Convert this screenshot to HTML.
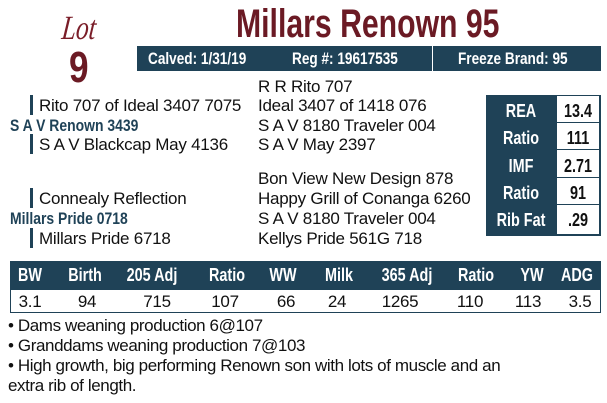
<!DOCTYPE html>
<html><head><meta charset="utf-8"><style>
body{margin:0;width:607px;height:403px;background:#fff;position:relative;overflow:hidden;font-family:"Liberation Sans",sans-serif;color:#111}
.a{position:absolute;white-space:nowrap}
.n{transform-origin:0 0;transform:scaleX(0.8)}
.p{font-size:17px;letter-spacing:-0.25px;line-height:19px}
.bar{position:absolute;width:3px;background:#1f4257}
.nav{background:#1f4257;color:#fff;font-weight:bold}
.c{position:absolute;text-align:center;white-space:nowrap;transform:translateX(-50%)}
</style></head><body>
<div class="a" style="left:64px;top:10px;font-family:'Liberation Serif',serif;font-style:italic;font-size:34px;color:#7a1d28;transform-origin:0 0;transform:scaleX(0.75) skewX(-8deg)">Lot</div>
<div class="a" style="left:69px;top:43px;font-size:44px;font-weight:bold;color:#6b1a24;transform-origin:0 0;transform:scaleX(0.8)">9</div>
<div class="a" style="left:236px;top:2px;font-size:40px;font-weight:bold;color:#6b1a24;transform-origin:0 0;transform:scaleX(0.755)">Millars Renown 95</div>
<div class="a nav" style="left:137px;top:46px;width:464px;height:25px"></div>
<div class="a" style="left:432px;top:46px;width:1px;height:25px;background:#fff"></div>
<div class="a n" style="left:148px;top:49px;color:#fff;font-weight:bold;font-size:17px">Calved: 1/31/19</div>
<div class="a n" style="left:292px;top:49px;color:#fff;font-weight:bold;font-size:17px">Reg #: 19617535</div>
<div class="a n" style="left:458px;top:49px;color:#fff;font-weight:bold;font-size:17px">Freeze Brand: 95</div>

<div class="bar" style="left:30px;top:95px;height:20px"></div>
<div class="bar" style="left:30px;top:134px;height:20px"></div>
<div class="a p" style="left:39px;top:96px">Rito 707 of Ideal 3407 7075</div>
<div class="a" style="left:10px;top:116px;font-weight:bold;color:#1f4257;font-size:17px;transform-origin:0 0;transform:scaleX(0.82)">S A V Renown 3439</div>
<div class="a p" style="left:39px;top:135px">S A V Blackcap May 4136</div>
<div class="a p" style="left:258px;top:77px">R R Rito 707</div>
<div class="a p" style="left:258px;top:96px">Ideal 3407 of 1418 076</div>
<div class="a p" style="left:258px;top:116px">S A V 8180 Traveler 004</div>
<div class="a p" style="left:258px;top:135px">S A V May 2397</div>

<div class="bar" style="left:30px;top:188px;height:20px"></div>
<div class="bar" style="left:30px;top:228px;height:20px"></div>
<div class="a p" style="left:39px;top:189px">Connealy Reflection</div>
<div class="a" style="left:10px;top:209px;font-weight:bold;color:#1f4257;font-size:17px;transform-origin:0 0;transform:scaleX(0.82)">Millars Pride 0718</div>
<div class="a p" style="left:39px;top:229px">Millars Pride 6718</div>
<div class="a p" style="left:258px;top:169px">Bon View New Design 878</div>
<div class="a p" style="left:258px;top:189px">Happy Grill of Conanga 6260</div>
<div class="a p" style="left:258px;top:209px">S A V 8180 Traveler 004</div>
<div class="a p" style="left:258px;top:229px">Kellys Pride 561G 718</div>

<div class="a nav" style="left:486px;top:95px;width:115px;height:141px"></div>
<div class="a" style="left:556px;top:95px;width:44px;height:140px;background:#fff;border:1px solid #1f4257;box-sizing:border-box"></div>
<div class="a" style="left:556px;top:122px;width:44px;height:1px;background:#1f4257"></div>
<div class="a" style="left:556px;top:149px;width:44px;height:1px;background:#1f4257"></div>
<div class="a" style="left:556px;top:177px;width:44px;height:1px;background:#1f4257"></div>
<div class="a" style="left:556px;top:204px;width:44px;height:1px;background:#1f4257"></div>
<div style="position:absolute;left:0;top:0;color:#fff;font-weight:bold;font-size:18px">
<div class="c" style="left:521px;top:101px;transform:translateX(-50%) scaleX(0.8)">REA</div>
<div class="c" style="left:521px;top:128px;transform:translateX(-50%) scaleX(0.8)">Ratio</div>
<div class="c" style="left:521px;top:156px;transform:translateX(-50%) scaleX(0.8)">IMF</div>
<div class="c" style="left:521px;top:183px;transform:translateX(-50%) scaleX(0.8)">Ratio</div>
<div class="c" style="left:521px;top:210px;transform:translateX(-50%) scaleX(0.8)">Rib Fat</div>
</div>
<div style="position:absolute;left:0;top:0;font-weight:bold;font-size:18px">
<div class="c" style="left:578px;top:101px;transform:translateX(-50%) scaleX(0.8)">13.4</div>
<div class="c" style="left:578px;top:128px;transform:translateX(-50%) scaleX(0.8)">111</div>
<div class="c" style="left:578px;top:156px;transform:translateX(-50%) scaleX(0.8)">2.71</div>
<div class="c" style="left:578px;top:183px;transform:translateX(-50%) scaleX(0.8)">91</div>
<div class="c" style="left:578px;top:210px;transform:translateX(-50%) scaleX(0.8)">.29</div>
</div>

<div class="a nav" style="left:10px;top:261px;width:591px;height:29px"></div>
<div class="a" style="left:10px;top:290px;width:591px;height:23px;border:1px solid #1f4257;border-top:none;box-sizing:border-box"></div>
<div style="position:absolute;top:265px;left:0;color:#fff;font-weight:bold;font-size:18px">
<div class="c" style="left:30px;transform:translateX(-50%) scaleX(0.8)">BW</div>
<div class="c" style="left:85px;transform:translateX(-50%) scaleX(0.8)">Birth</div>
<div class="c" style="left:152px;transform:translateX(-50%) scaleX(0.8)">205 Adj</div>
<div class="c" style="left:227px;transform:translateX(-50%) scaleX(0.8)">Ratio</div>
<div class="c" style="left:283px;transform:translateX(-50%) scaleX(0.8)">WW</div>
<div class="c" style="left:339px;transform:translateX(-50%) scaleX(0.8)">Milk</div>
<div class="c" style="left:407px;transform:translateX(-50%) scaleX(0.8)">365 Adj</div>
<div class="c" style="left:476px;transform:translateX(-50%) scaleX(0.8)">Ratio</div>
<div class="c" style="left:532px;transform:translateX(-50%) scaleX(0.8)">YW</div>
<div class="c" style="left:577px;transform:translateX(-50%) scaleX(0.8)">ADG</div>
</div>
<div style="position:absolute;top:292px;left:0;font-size:17px;letter-spacing:-0.3px">
<div class="c" style="left:30px">3.1</div>
<div class="c" style="left:87px">94</div>
<div class="c" style="left:157px">715</div>
<div class="c" style="left:225px">107</div>
<div class="c" style="left:286px">66</div>
<div class="c" style="left:337px">24</div>
<div class="c" style="left:400px">1265</div>
<div class="c" style="left:470px">110</div>
<div class="c" style="left:528px">113</div>
<div class="c" style="left:580px">3.5</div>
</div>
<div class="a p" style="left:8px;top:316px;line-height:20px;letter-spacing:-0.4px">• Dams weaning production 6@107<br>• Granddams weaning production 7@103<br>• High growth, big performing Renown son with lots of muscle and an<br>extra rib of length.</div>
</body></html>
